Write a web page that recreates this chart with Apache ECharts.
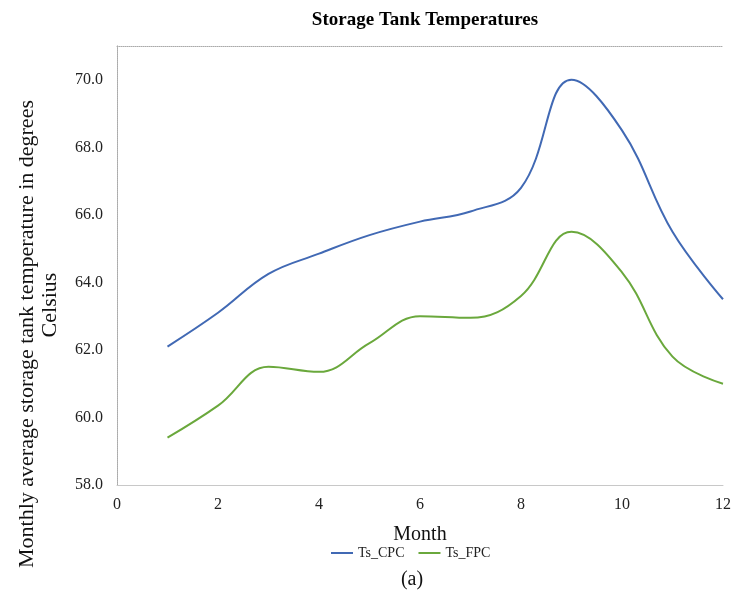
<!DOCTYPE html>
<html>
<head>
<meta charset="utf-8">
<script src="https://cdn.jsdelivr.net/npm/echarts@6/dist/echarts.min.js"></script>
<style>html,body{margin:0;padding:0;background:#fff}#c{width:735px;height:610px}</style>
</head>
<body>
<div id="c"></div>
<script>
var months = [1, 2, 3, 4, 5, 6, 7, 8, 9, 10, 11, 12];
var tsCPC = [62.1, 63.1, 64.25, 64.85, 65.4, 65.8, 66.1, 66.8, 70.0, 68.5, 65.5, 63.5];
var tsFPC = [59.4, 60.35, 61.5, 61.35, 62.2, 63.0, 62.95, 63.6, 65.5, 64.3, 61.8, 61.0];
var seriesNames = ['Ts_CPC', 'Ts_FPC'];
var yTitleLines = ['Monthly average storage tank temperature in degrees', 'Celsius'];

var serif = '"Liberation Serif", "Times New Roman", serif';
var chart = echarts.init(document.getElementById('c'), null, {renderer: 'canvas'});
function pairs(ys) { return months.map(function (m, i) { return [m, ys[i]]; }); }

chart.setOption({
  backgroundColor: '#fff',
  animation: false,
  title: [
    {text: 'Storage Tank Temperatures', left: 420, textAlign: 'center', top: 6,
     textStyle: {fontFamily: serif, fontWeight: 'bold', fontSize: 19, color: '#000'}},
    {text: '(a)', left: 407, textAlign: 'center', top: 565,
     textStyle: {fontFamily: serif, fontWeight: 'normal', fontSize: 20, color: '#111'}}
  ],
  legend: {
    data: seriesNames, left: 326, top: 541,
    icon: 'rect', itemWidth: 22, itemHeight: 2, itemGap: 14,
    textStyle: {fontFamily: serif, fontSize: 14, color: '#222'}
  },
  graphic: [{
    type: 'text', x: 27, y: 334, rotation: Math.PI / 2,
    style: {text: yTitleLines[0], font: '22px ' + serif, fill: '#111', align: 'center', verticalAlign: 'middle'}
  }, {
    type: 'text', x: 50, y: 305, rotation: Math.PI / 2,
    style: {text: yTitleLines[1], font: '22px ' + serif, fill: '#111', align: 'center', verticalAlign: 'middle'}
  }],
  grid: {left: 117, right: 12, top: 46, bottom: 125, containLabel: false},
  xAxis: [{
    type: 'value', min: 0, max: 12, interval: 2,
    name: 'Month', nameLocation: 'middle', nameGap: 40,
    nameTextStyle: {fontFamily: serif, fontSize: 20, color: '#111'},
    axisLine: {show: true, lineStyle: {color: '#c8c8c8', width: 1}},
    axisTick: {show: false}, splitLine: {show: false},
    axisLabel: {fontFamily: serif, fontSize: 16, color: '#222', margin: 12}
  }, {
    type: 'value', position: 'top', min: 0, max: 12,
    axisLine: {show: true, lineStyle: {color: '#aaa', width: 1, type: 'dotted'}},
    axisTick: {show: false}, splitLine: {show: false}, axisLabel: {show: false}
  }],
  yAxis: [{
    type: 'value', min: 58, max: 71, interval: 2,
    axisLine: {show: true, lineStyle: {color: '#c8c8c8', width: 1}},
    axisTick: {show: false}, splitLine: {show: false},
    axisLabel: {fontFamily: serif, fontSize: 16, color: '#222', margin: 14, showMaxLabel: false,
      formatter: function (v) { return v === 71 ? '' : v.toFixed(1); }}
  }, {
    type: 'value', position: 'right', min: 58, max: 71,
    axisLine: {show: true, lineStyle: {color: '#aaa', width: 1, type: 'dotted'}},
    axisTick: {show: false}, splitLine: {show: false}, axisLabel: {show: false}
  }],
  series: [{
    name: seriesNames[0], type: 'line', data: pairs(tsCPC), smooth: 0.4,
    symbol: 'none', lineStyle: {color: '#4169b4', width: 2}, itemStyle: {color: '#4169b4'}
  }, {
    name: seriesNames[1], type: 'line', data: pairs(tsFPC), smooth: 0.4,
    symbol: 'none', lineStyle: {color: '#6aa83c', width: 2}, itemStyle: {color: '#6aa83c'}
  }]
});
</script>
</body>
</html>
